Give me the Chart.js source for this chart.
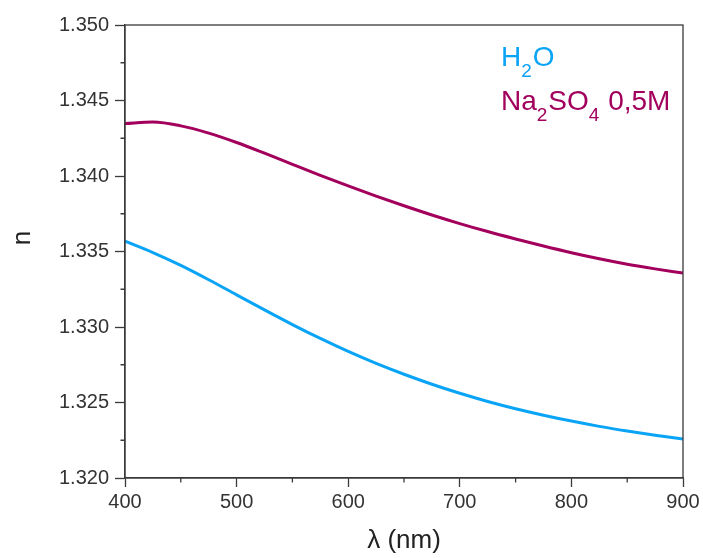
<!DOCTYPE html>
<html>
<head>
<meta charset="utf-8">
<script src="https://cdn.jsdelivr.net/npm/chart.js@4.4.1/dist/chart.umd.min.js"></script>
<style>
  html, body { margin: 0; padding: 0; background: #fff; }
  #wrap { width: 703px; height: 558px; position: relative; }
</style>
</head>
<body>
<div id="wrap"><canvas id="c" width="703" height="558"></canvas></div>
<script>
// Wavelength (nm)
const wavelengths = [400, 425, 450, 475, 500, 525, 550, 575, 600, 625, 650, 675, 700, 725, 750, 775, 800, 825, 850, 875, 900];
// Refractive index, water
const h2o = [1.33568, 1.33493, 1.33408, 1.33313, 1.33213, 1.33113, 1.33016, 1.32924, 1.32838, 1.32759, 1.32687, 1.32621, 1.32561, 1.32507, 1.32459, 1.32416, 1.32377, 1.32342, 1.32311, 1.32283, 1.32258];
// Refractive index, Na2SO4 0.5 M
const na2so4 = [1.34347, 1.34357, 1.34332, 1.34284, 1.34222, 1.34151, 1.34077, 1.34004, 1.33934, 1.33867, 1.33803, 1.33742, 1.33685, 1.33632, 1.33583, 1.33536, 1.33492, 1.33452, 1.33416, 1.33385, 1.33357];
// Axis ticks
const xMajorTicks = [400, 500, 600, 700, 800, 900];
const xMinorTicks = [450, 550, 650, 750, 850];
const yMajorTicks = [1.320, 1.325, 1.330, 1.335, 1.340, 1.345, 1.350];
const yMinorTicks = [1.3225, 1.3275, 1.3325, 1.3375, 1.3425, 1.3475];
const xTitle = 'λ (nm)';
const yTitle = 'n';

const AXIS = '#3a3a3a';
const BLUE = '#0aa4f6';
const PURPLE = '#a2005c';
const FONT = '"Liberation Sans", Arial, sans-serif';

const framePlugin = {
  id: 'frame',
  afterDraw(chart) {
    const {ctx, chartArea: a, scales} = chart;
    ctx.save();
    ctx.strokeStyle = AXIS;
    ctx.lineWidth = 1.3;
    ctx.strokeRect(a.left, a.top, a.right - a.left, a.bottom - a.top);
    // minor ticks
    ctx.beginPath();
    xMinorTicks.forEach(v => {
      const px = scales.x.getPixelForValue(v);
      ctx.moveTo(px, a.bottom); ctx.lineTo(px, a.bottom + 4.5);
    });
    yMinorTicks.forEach(v => {
      const py = scales.y.getPixelForValue(v);
      ctx.moveTo(a.left, py); ctx.lineTo(a.left - 4.5, py);
    });
    ctx.stroke();
    // y axis title
    ctx.save();
    ctx.translate(23, a.top + (a.bottom - a.top) * 0.47);
    ctx.rotate(-Math.PI / 2);
    ctx.fillStyle = '#222';
    ctx.font = '26px ' + FONT;
    ctx.textAlign = 'center';
    ctx.textBaseline = 'middle';
    ctx.fillText(yTitle, 0, 0);
    ctx.restore();
    // legend text with subscripts
    const drawParts = (parts, x, y, color) => {
      ctx.fillStyle = color;
      ctx.textBaseline = 'alphabetic';
      ctx.textAlign = 'left';
      parts.forEach(p => {
        ctx.font = (p.sub ? '19px ' : '28px ') + FONT;
        ctx.fillText(p.t, x, y + (p.sub ? 11 : 0));
        x += ctx.measureText(p.t).width + (p.sub ? 1 : 0);
      });
    };
    drawParts([{t: 'H'}, {t: '2', sub: true}, {t: 'O'}], 501, 66, BLUE);
    drawParts([{t: 'Na'}, {t: '2', sub: true}, {t: 'SO'}, {t: '4', sub: true}, {t: ' 0,5M'}], 501, 110, PURPLE);
    ctx.restore();
  }
};

new Chart(document.getElementById('c'), {
  type: 'line',
  data: {
    datasets: [
      { label: 'H2O', data: wavelengths.map((w, i) => ({x: w, y: h2o[i]})),
        borderColor: BLUE, borderWidth: 3, pointRadius: 0, cubicInterpolationMode: 'monotone', fill: false },
      { label: 'Na2SO4 0,5M', data: wavelengths.map((w, i) => ({x: w, y: na2so4[i]})),
        borderColor: PURPLE, borderWidth: 3, pointRadius: 0, cubicInterpolationMode: 'monotone', fill: false }
    ]
  },
  options: {
    responsive: false,
    animation: false,
    devicePixelRatio: 1,
    layout: { padding: { left: 0, right: 20, top: 25, bottom: 0 } },
    plugins: { legend: { display: false }, tooltip: { enabled: false } },
    scales: {
      x: {
        type: 'linear', min: 400, max: 900,
        afterBuildTicks: s => { s.ticks = xMajorTicks.map(v => ({value: v})); },
        afterFit: s => { s.height = 80; },
        grid: { drawOnChartArea: false, tickLength: 9, color: AXIS, tickWidth: 1.3 },
        border: { color: AXIS, width: 1.3 },
        ticks: { color: '#333', font: { family: FONT, size: 20 }, padding: 3, maxRotation: 0,
                 callback: v => String(v) },
        title: { display: true, text: xTitle, color: '#222', font: { family: FONT, size: 26 }, padding: { top: 0, bottom: 2 } }
      },
      y: {
        type: 'linear', min: 1.320, max: 1.350,
        afterBuildTicks: s => { s.ticks = yMajorTicks.map(v => ({value: v})); },
        afterFit: s => { s.width = 125; },
        grid: { drawOnChartArea: false, tickLength: 10, color: AXIS, tickWidth: 1.3 },
        border: { color: AXIS, width: 1.3 },
        ticks: { color: '#333', font: { family: FONT, size: 20 }, padding: 6,
                 callback: v => v.toFixed(3) },
        title: { display: false }
      }
    }
  },
  plugins: [framePlugin]
});
</script>
</body>
</html>
